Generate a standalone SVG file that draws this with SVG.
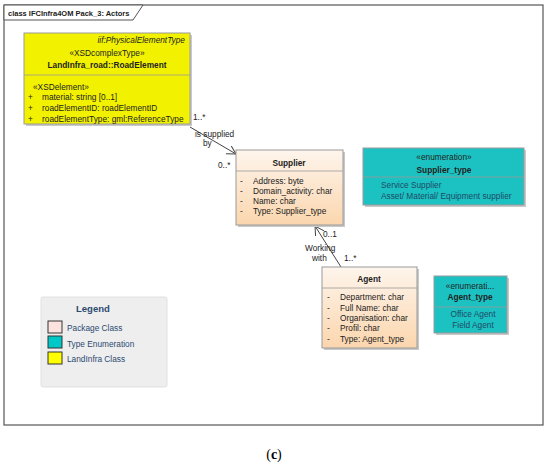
<svg xmlns="http://www.w3.org/2000/svg" width="550" height="466" viewBox="0 0 550 466">
<defs>
<linearGradient id="peach" x1="0" y1="0" x2="0" y2="1">
<stop offset="0" stop-color="#fef5ec"/>
<stop offset="1" stop-color="#fbd6ae"/>
</linearGradient>
<marker id="open" markerUnits="userSpaceOnUse" markerWidth="12" markerHeight="12" refX="9" refY="5" orient="auto">
<path d="M0,0 L9,5 L0,10" fill="none" stroke="#444" stroke-width="1"/>
</marker>
<style>
text{font-family:"Liberation Sans",Arial,sans-serif;font-size:8.3px;fill:#222}
.b{font-weight:bold}
.m{text-anchor:middle}
.i{font-style:italic}
.e{fill:#1f4a66}
.lg{fill:#2c4a70}
.sh{fill:#c9c9c9}
.box{stroke:#9a9a9a;stroke-width:1}
.div{stroke:#9a9a9a;stroke-width:0.8}
.ln{stroke:#444;stroke-width:1;fill:none}
</style>
</defs>
<rect x="0" y="0" width="550" height="466" fill="#fff"/>
<g id="frame">
<rect x="4" y="5" width="539" height="420" fill="none" stroke="#555" stroke-width="1.2"/>
<polygon points="4,5 143,5 133,20 4,20" fill="#fff" stroke="#555" stroke-width="1"/>
<text x="8" y="15.5" class="b" style="font-size:7.5px">class IFCInfra4OM Pack_3: Actors</text>
</g>
<g id="connectors">
<line class="ln" x1="190" y1="127" x2="236" y2="154" marker-end="url(#open)"/>
<text x="193" y="120">1..*</text>
<text x="195" y="137">is supplied</text>
<text x="203" y="146">by</text>
<text x="218" y="168">0..*</text>
<line class="ln" x1="341" y1="267" x2="315" y2="226" marker-end="url(#open)"/>
<text x="323" y="237">0..1</text>
<text x="305" y="251">Working</text>
<text x="312" y="261">with</text>
<text x="344" y="261">1..*</text>
</g>
<g id="RoadElement">
<rect class="sh" x="26" y="35" width="166" height="91"/>
<rect class="box" x="24" y="33" width="166" height="91" fill="#f2f200"/>
<line class="div" x1="24" y1="75" x2="190" y2="75"/>
<text x="185" y="43" class="i" text-anchor="end">iif:PhysicalElementType</text>
<text x="107" y="56" class="m">«XSDcomplexType»</text>
<text x="107" y="68" class="m b">LandInfra_road::RoadElement</text>
<text x="33" y="90">«XSDelement»</text>
<text x="28" y="100">+</text><text x="42" y="100">material: string [0..1]</text>
<text x="28" y="111">+</text><text x="42" y="111">roadElementID: roadElementID</text>
<text x="28" y="122">+</text><text x="42" y="122">roadElementType: gml:ReferenceType</text>
</g>
<g id="Supplier">
<rect class="sh" x="238" y="152" width="107" height="75"/>
<rect class="box" x="236" y="150" width="107" height="75" fill="url(#peach)"/>
<line class="div" x1="236" y1="171" x2="343" y2="171"/>
<text x="289" y="166" class="m b">Supplier</text>
<text x="240" y="184">-</text><text x="253" y="184">Address: byte</text>
<text x="240" y="194">-</text><text x="253" y="194">Domain_activity: char</text>
<text x="240" y="204">-</text><text x="253" y="204">Name: char</text>
<text x="240" y="214">-</text><text x="253" y="214">Type: Supplier_type</text>
</g>
<g id="Supplier_type">
<rect class="sh" x="365" y="150" width="161" height="57"/>
<rect class="box" x="363" y="148" width="161" height="57" fill="#1cc2c2"/>
<line class="div" x1="363" y1="177" x2="524" y2="177"/>
<text x="444" y="160" class="m">«enumeration»</text>
<text x="444" y="173" class="m b">Supplier_type</text>
<text x="381" y="188" class="e">Service Supplier</text>
<text x="381" y="199" class="e">Asset/ Material/ Equipment supplier</text>
</g>
<g id="Agent">
<rect class="sh" x="324" y="269" width="95" height="81"/>
<rect class="box" x="322" y="267" width="95" height="81" fill="url(#peach)"/>
<line class="div" x1="322" y1="288" x2="417" y2="288"/>
<text x="369" y="282" class="m b">Agent</text>
<text x="327" y="300">-</text><text x="340" y="300">Department: char</text>
<text x="327" y="311">-</text><text x="340" y="311">Full Name: char</text>
<text x="327" y="321">-</text><text x="340" y="321">Organisation: char</text>
<text x="327" y="331">-</text><text x="340" y="331">Profil: char</text>
<text x="327" y="342">-</text><text x="340" y="342">Type: Agent_type</text>
</g>
<g id="Agent_type">
<rect class="sh" x="436" y="278" width="73" height="57"/>
<rect class="box" x="434" y="276" width="73" height="57" fill="#1cc2c2"/>
<line class="div" x1="434" y1="307" x2="507" y2="307"/>
<text x="470" y="289" class="m">«enumerati...</text>
<text x="470" y="300" class="m b">Agent_type</text>
<text x="473" y="317" class="m e">Office Agent</text>
<text x="473" y="328" class="m e">Field Agent</text>
</g>
<g id="Legend">
<rect x="41" y="297" width="126" height="90" rx="2" fill="#eeeeee" stroke="#e0e0e0"/>
<text x="76" y="312" class="b lg" style="font-size:9.5px">Legend</text>
<rect x="48" y="321" width="14" height="12" fill="#fde3e0" stroke="#333"/>
<text x="67" y="331" class="lg">Package Class</text>
<rect x="48" y="336" width="14" height="12" fill="#00c8c8" stroke="#333"/>
<text x="67" y="347" class="lg">Type Enumeration</text>
<rect x="48" y="352" width="14" height="12" fill="#ffff00" stroke="#333"/>
<text x="67" y="362" class="lg">LandInfra Class</text>
</g>
<text x="274" y="459" text-anchor="middle" style="font-family:'Liberation Serif','Times New Roman',serif;font-size:14px;fill:#000">(<tspan font-weight="bold">c</tspan>)</text>
</svg>
